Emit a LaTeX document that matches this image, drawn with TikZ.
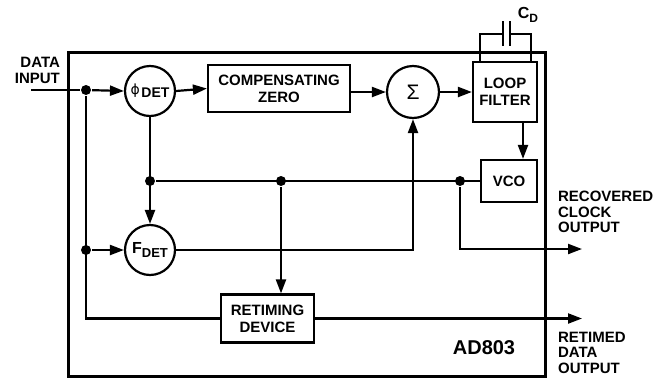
\documentclass[tikz,border=0pt]{standalone}
\usepackage{fontspec}
\setmainfont{Liberation Sans}
\newfontfamily\dejavu{DejaVu Sans}
\usetikzlibrary{arrows.meta}
\begin{document}
\begin{tikzpicture}[x=1pt,y=-1pt,line width=2.2pt,
  >={Triangle[length=14pt,width=10pt]},
  lbl/.style={font=\fontsize{15}{16}\selectfont\bfseries,align=center,inner sep=0pt},
  blk/.style={draw,line width=2.2pt,inner sep=0pt,font=\fontsize{15}{17}\selectfont\bfseries,align=center},
  circ/.style={draw,circle,line width=2.2pt,inner sep=0pt,minimum size=50pt},
  dot/.style={circle,fill,inner sep=0pt,minimum size=10pt},
  outlbl/.style={font=\fontsize{15}{15.5}\selectfont\bfseries,align=left,inner sep=0pt,anchor=north west}]
\useasboundingbox (0,0) rectangle (667,378);
% main chip box
\draw[line width=3pt] (68,52) rectangle (545,376.5);
% blocks
\node[circ] (phi) at (150,91) {{\dejavu\fontsize{14}{14}\selectfont ϕ}\,\raisebox{-3pt}{\fontsize{14}{14}\selectfont\bfseries DET}};
\node[blk,minimum width=142pt,minimum height=47pt] (comp) at (279,88.5) {COMPENSATING\\ZERO};
\node[circ,minimum size=52pt] (sig) at (413,92) {\fontsize{21}{21}\selectfont Σ};
\node[blk,minimum width=64pt,minimum height=60pt] (loop) at (505,92) {LOOP\\FILTER};
\node[blk,minimum width=56pt,minimum height=42pt] (vco) at (509,181) {VCO};
\node[circ] (fdet) at (150,250) {{\fontsize{16}{16}\selectfont\bfseries F}\raisebox{-4pt}{\fontsize{13}{13}\selectfont\bfseries DET}};
\node[blk,minimum width=93pt,minimum height=48pt] (ret) at (267.5,318.5) {RETIMING\\DEVICE};
% dots and coordinates
\node[dot] (d1) at (86,90) {};
\node[dot] (d2) at (86,250) {};
\node[dot] (d3) at (150,181) {};
\node[dot] (d4) at (281,181) {};
\node[dot] (d5) at (460,181) {};
\coordinate (din) at (31,90);
\coordinate (rco) at (582,249);
\coordinate (rdo) at (582,318.5);
\coordinate (c1) at (86,318.5);
\coordinate (c2) at (413,250);
\coordinate (c3) at (460,249);
% connectors
\draw (din) -- (d1);
\draw[->] (d1) -- (phi.west);
\draw[->] (phi.east) -- (comp.west);
\draw[->] (comp.east |- sig.west) -- (sig.west);
\draw[->] (sig.east) -- (loop.west);
\draw[->] (loop.south -| 523,0) -- (vco.north -| 523,0);
\draw (d1) -- (c1) -- (ret.west);
\draw[->] (ret.east) -- (rdo);
\draw[->] (phi.south) -- (fdet.north);
\draw (d3) -- (vco.west);
\draw[->] (d2) -- (fdet.west);
\draw[->] (fdet.east) -- (c2) -- (sig.south);
\draw[->] (d4) -- (ret.north -| d4);
\draw[->] (d5) -- (c3) -- (rco);
% capacitor
\coordinate (cl) at (480,62);
\coordinate (cr) at (531,62);
\draw (cl) -- (480,34) -- (503,34);
\draw (510,34) -- (531,34) -- (cr);
\draw (503,21) -- (503,46);
\draw (510,21) -- (510,46);
\node[inner sep=0pt] (cd) at (528,15) {{\fontsize{16}{16}\selectfont\bfseries C}\raisebox{-4pt}{\fontsize{12}{12}\selectfont\bfseries D}};
% labels
\node[lbl,align=right,anchor=east] (datain) at (61,70) {DATA\\INPUT};
\node[outlbl] (rclk) at (557,190) {RECOVERED\\CLOCK\\OUTPUT};
\node[outlbl] (rdat) at (557,331) {RETIMED\\DATA\\OUTPUT};
\node[inner sep=0pt,font=\fontsize{20}{20}\selectfont\bfseries] (chip) at (484,348) {AD803};
\end{tikzpicture}
\end{document}
